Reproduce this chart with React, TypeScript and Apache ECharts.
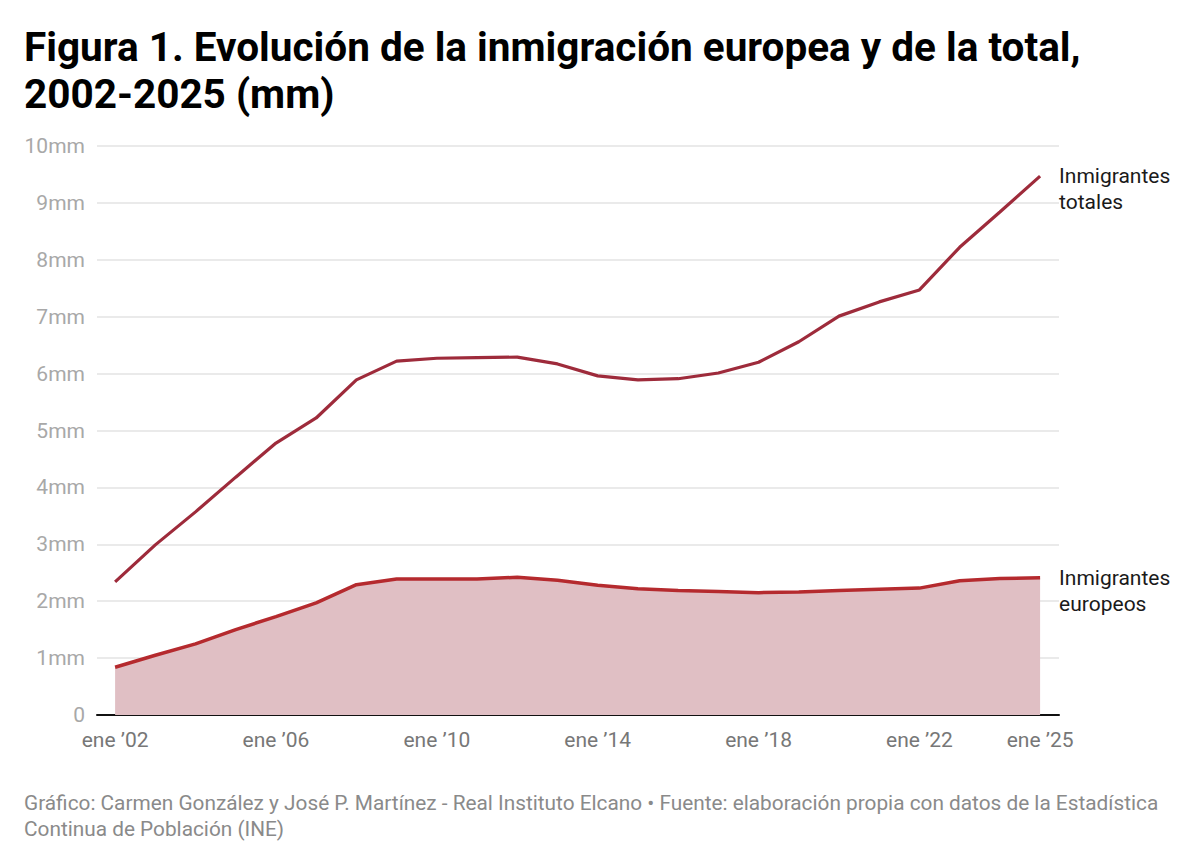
import React, { useEffect, useRef } from "react";
import * as echarts from "echarts";

const years = [2002, 2003, 2004, 2005, 2006, 2007, 2008, 2009, 2010, 2011, 2012, 2013, 2014, 2015, 2016, 2017, 2018, 2019, 2020, 2021, 2022, 2023, 2024, 2025];
const totales = [2.34, 2.99, 3.57, 4.18, 4.78, 5.22, 5.89, 6.22, 6.27, 6.28, 6.29, 6.17, 5.96, 5.89, 5.91, 6.01, 6.2, 6.56, 7.01, 7.26, 7.47, 8.22, 8.84, 9.47];
const europeos = [0.84, 1.05, 1.25, 1.5, 1.73, 1.97, 2.29, 2.39, 2.39, 2.39, 2.42, 2.37, 2.28, 2.22, 2.19, 2.17, 2.15, 2.16, 2.19, 2.21, 2.23, 2.36, 2.4, 2.41];
const xTickYears = [2002, 2006, 2010, 2014, 2018, 2022, 2025];

const titleText = "Figura 1. Evolución de la inmigración europea y de la total,\n2002-2025 (mm)";
const footerText = "Gráfico: Carmen González y José P. Martínez - Real Instituto Elcano • Fuente: elaboración propia con datos de la Estadística\nContinua de Población (INE)";

export default function App() {
  const ref = useRef<HTMLDivElement>(null);
  useEffect(() => {
    document.body.style.margin = "0";
    const chart = echarts.init(ref.current!, null, { renderer: "svg" });
    const font = "Roboto, sans-serif";
    chart.setOption({
      animation: false,
      backgroundColor: "#ffffff",
      textStyle: { fontFamily: font },
      title: [
        {
          text: titleText,
          left: 19,
          top: 18,
          textStyle: { fontFamily: font, fontWeight: "bold", fontSize: 40.5, lineHeight: 47, color: "#000000" },
        },
        {
          text: footerText,
          left: 19,
          top: 785,
          textStyle: { fontFamily: font, fontWeight: "normal", fontSize: 20.8, lineHeight: 26, color: "#8a8a8a" },
        },
      ],
      grid: { left: 97, right: 141, top: 146, bottom: 145, containLabel: false },
      xAxis: {
        type: "value",
        min: 2001.55,
        max: 2025.47,
        splitLine: { show: false },
        axisLine: { show: true, onZero: true, lineStyle: { color: "#111111", width: 2 } },
        axisTick: { show: false },
        axisLabel: {
          customValues: xTickYears,
          formatter: (v: number) => "ene \u2019" + String(v).slice(2),
          color: "#777777",
          fontSize: 21,
          margin: 14,
          fontFamily: font,
        },
      },
      yAxis: {
        type: "value",
        min: 0,
        max: 10,
        interval: 1,
        axisLine: { show: false },
        axisTick: { show: false },
        splitLine: { lineStyle: { color: "#e3e3e3", width: 1.5 } },
        axisLabel: {
          formatter: (v: number) => (v === 0 ? "0" : v + "mm"),
          color: "#a8a8a8",
          fontSize: 21,
          margin: 12,
          fontFamily: font,
        },
      },
      series: [
        {
          name: "Inmigrantes europeos",
          type: "line",
          data: years.map((y, i) => [y, europeos[i]]),
          showSymbol: false,
          symbol: "none",
          lineStyle: { color: "#b52a2e", width: 3.5 },
          areaStyle: { color: "#e0bfc4", opacity: 1, origin: 0 },
          z: 2,
          endLabel: {
            show: true,
            formatter: "Inmigrantes\neuropeos",
            color: "#1a1a1a",
            fontSize: 21,
            lineHeight: 26,
            distance: 19,
            offset: [0, 13],
            fontFamily: font,
          },
        },
        {
          name: "Inmigrantes totales",
          type: "line",
          data: years.map((y, i) => [y, totales[i]]),
          showSymbol: false,
          symbol: "none",
          lineStyle: { color: "#9e2b3b", width: 3.2 },
          z: 3,
          endLabel: {
            show: true,
            formatter: "Inmigrantes\ntotales",
            color: "#1a1a1a",
            fontSize: 21,
            lineHeight: 26,
            distance: 19,
            offset: [0, 13],
            fontFamily: font,
          },
        },
      ],
    });
    return () => chart.dispose();
  }, []);
  return <div ref={ref} style={{ width: 1200, height: 860 }} />;
}
